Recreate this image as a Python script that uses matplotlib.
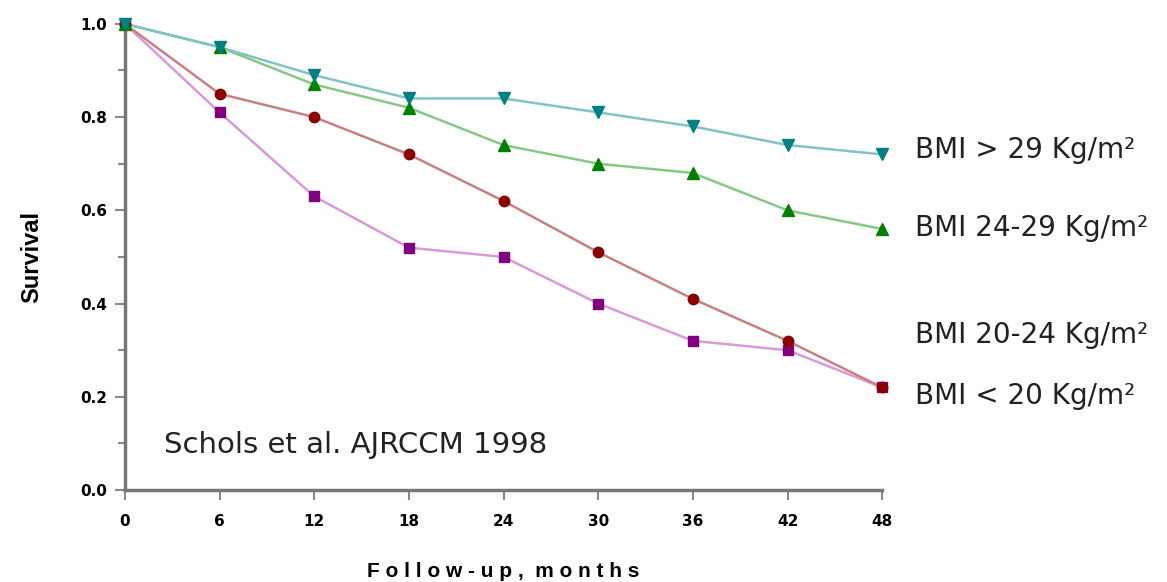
"""
Survival by BMI category over follow-up
"""

import matplotlib
matplotlib.use('Agg')
import matplotlib.pyplot as plt

matplotlib.rcParams['font.family'] = ['DejaVu Sans']

months = [0, 6, 12, 18, 24, 30, 36, 42, 48]

bmi_over_29 = [1.00, 0.95, 0.89, 0.84, 0.84, 0.81, 0.78, 0.74, 0.72]
bmi_24_29 = [1.00, 0.95, 0.87, 0.82, 0.74, 0.70, 0.68, 0.60, 0.56]
bmi_20_24 = [1.00, 0.85, 0.80, 0.72, 0.62, 0.51, 0.41, 0.32, 0.22]
bmi_under_20 = [1.00, 0.81, 0.63, 0.52, 0.50, 0.40, 0.32, 0.30, 0.22]

group_labels = ['BMI > 29 Kg/m²', 'BMI 24-29 Kg/m²',
                'BMI 20-24 Kg/m²', 'BMI < 20 Kg/m²']
label_y = [0.73, 0.562, 0.333, 0.202]

y_major = [0.0, 0.2, 0.4, 0.6, 0.8, 1.0]
y_minor = [0.1, 0.3, 0.5, 0.7, 0.9]
y_ticklabels = ['0.0', '0.2', '0.4', '0.6', '0.8', '1.0']

fig = plt.figure(figsize=(11.67, 5.82), dpi=100)
ax = fig.add_axes([0.107, 0.158, 0.649, 0.801])

# purple and red first so the upper curves sit on top
ax.plot(months, bmi_under_20, color='#d89ad8', lw=1.8, zorder=3, clip_on=False)
ax.plot(months, bmi_under_20, ls='none', marker='s', ms=7, color='#800080', zorder=4, clip_on=False)
ax.plot(months, bmi_20_24, color='#c98080', lw=1.8, zorder=3, clip_on=False)
ax.plot(months, bmi_20_24, ls='none', marker='o', ms=7.5, color='#8b0000', zorder=4, clip_on=False)
ax.plot(months, bmi_24_29, color='#86c886', lw=1.8, zorder=3, clip_on=False)
ax.plot(months, bmi_24_29, ls='none', marker='^', ms=8, color='#008000', zorder=4, clip_on=False)
ax.plot(months, bmi_over_29, color='#80c4c4', lw=1.8, zorder=3, clip_on=False)
ax.plot(months, bmi_over_29, ls='none', marker='v', ms=8, color='#008080', zorder=4, clip_on=False)

for text, y in zip(group_labels, label_y):
    ax.text(50.1, y, text, fontsize=20, va='center', ha='left', color='#222222',
            clip_on=False)

ax.text(2.5, 0.097, 'Schols et al. AJRCCM 1998', fontsize=21, va='center',
        ha='left', color='#222222')

ax.set_xlim(0, 48)
ax.set_ylim(0, 1.0)
ax.set_xticks(months)
ax.set_yticks(y_major)
ax.set_yticks(y_minor, minor=True)
ax.set_yticklabels(y_ticklabels)

for side in ['top', 'right']:
    ax.spines[side].set_visible(False)
for side in ['left', 'bottom']:
    ax.spines[side].set_color('#777777')
    ax.spines[side].set_linewidth(2.5)

ax.tick_params(which='both', color='#888888', width=1.5)
ax.tick_params(which='major', length=7)
ax.tick_params(which='minor', length=5)
ax.tick_params(axis='x', labelsize=11, pad=10)
ax.tick_params(axis='y', labelsize=11, pad=6)
for lab in ax.get_xticklabels() + ax.get_yticklabels():
    lab.set_fontweight('bold')

ax.set_ylabel('Survival', fontsize=17, fontweight='bold', family='Liberation Sans',
              labelpad=26)
ax.set_xlabel('F o l l o w - u p ,  m o n t h s', fontsize=15, fontweight='bold',
              family='Liberation Sans', labelpad=24)

plt.savefig('out.png', dpi=100)
plt.close()
